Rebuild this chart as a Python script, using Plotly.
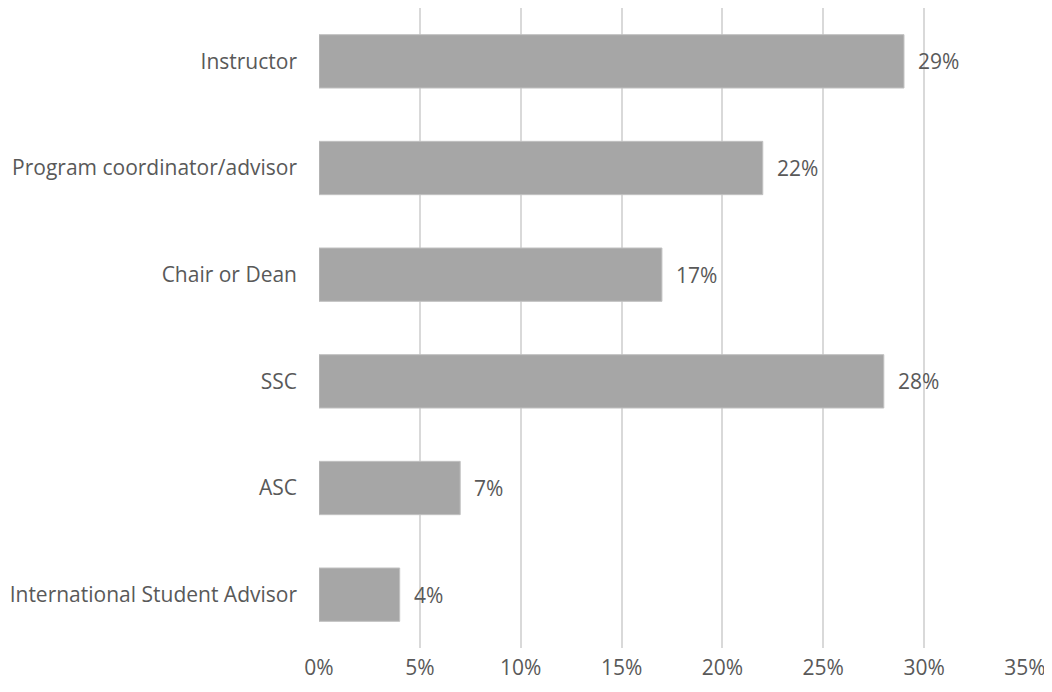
import plotly.graph_objects as go

categories = ["Instructor", "Program coordinator/advisor", "Chair or Dean", "SSC", "ASC", "International Student Advisor"]
values = [29, 22, 17, 28, 7, 4]
tick_vals = [0, 5, 10, 15, 20, 25, 30, 35]
tick_text = ["0%", "5%", "10%", "15%", "20%", "25%", "30%", "35%"]

FONT = "Open Sans"
FS = 21
TXT = "#595959"

fig = go.Figure(go.Bar(
    x=values,
    y=categories,
    orientation="h",
    marker=dict(color="#a6a6a6", line=dict(color="#c0c0c0", width=1)),
    width=0.5,
))

for c, v in zip(categories, values):
    fig.add_annotation(x=v, y=c, text=f"{v}%", showarrow=False,
                       xanchor="left", yanchor="middle", xshift=12,
                       font=dict(family=FONT, size=FS, color=TXT))

fig.update_layout(
    width=1044, height=676,
    margin=dict(l=311, r=27, t=0, b=36, autoexpand=False),
    paper_bgcolor="white", plot_bgcolor="white",
    font=dict(family=FONT, size=FS, color=TXT),
    showlegend=False,
    xaxis=dict(range=[0, 35], tickvals=tick_vals, ticktext=tick_text,
               showgrid=True, gridcolor="#d9d9d9", gridwidth=1.5,
               zeroline=False, showline=False, ticks="", automargin=False,
               ticklabelstandoff=5, ticklabeloverflow="allow",
               tickfont=dict(family=FONT, size=FS, color=TXT)),
    yaxis=dict(categoryorder="array", categoryarray=categories[::-1],
               range=[-0.5, 5.5], showgrid=False, zeroline=False, showline=False,
               ticks="", ticklabelstandoff=21, automargin=False,
               tickfont=dict(family=FONT, size=FS, color=TXT)),
)

fig.write_html("out.html")
